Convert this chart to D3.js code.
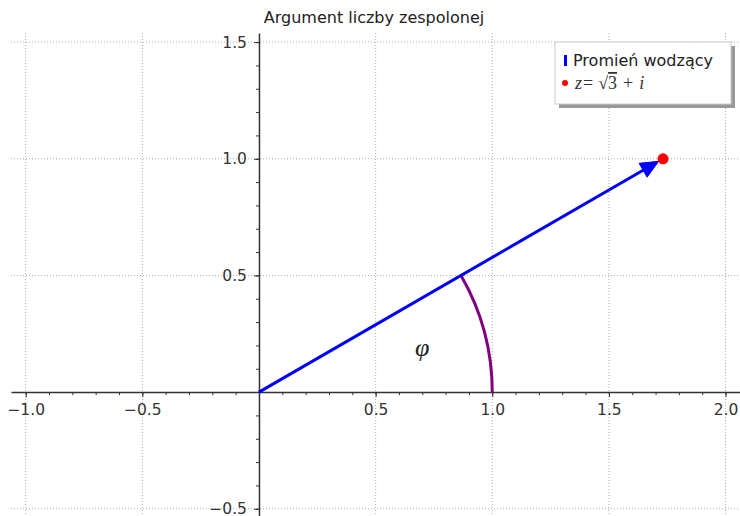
<!DOCTYPE html>
<html>
<head>
<meta charset="utf-8">
<script src="https://cdn.jsdelivr.net/npm/d3@7"></script>
<style>
  body { margin: 0; background: #fff; }
</style>
</head>
<body>
<script>
/* data */
const xMajor = [-1.0, -0.5, 0.5, 1.0, 1.5, 2.0];
const yMajor = [-0.5, 0.5, 1.0, 1.5];
const xMinor = [-1.0, -0.9, -0.8, -0.7, -0.6, -0.5, -0.4, -0.3, -0.2, -0.1, 0.1, 0.2, 0.3, 0.4, 0.5, 0.6, 0.7, 0.8, 0.9, 1.0, 1.1, 1.2, 1.3, 1.4, 1.5, 1.6, 1.7, 1.8, 1.9, 2.0];
const yMinor = [-0.5, -0.4, -0.3, -0.2, -0.1, 0.1, 0.2, 0.3, 0.4, 0.5, 0.6, 0.7, 0.8, 0.9, 1.0, 1.1, 1.2, 1.3, 1.4, 1.5];
const vectorFrom = [0, 0];
const vectorTo = [Math.sqrt(3), 1];
const arcRadius = 1;
const arcDegrees = [0, 30];
const phiPos = [0.70, 0.19];
const legendLabels = ['Promień wodzący', 'z = √3 + i'];

const width = 740;
const height = 516;

const svg = d3.select('body').append('svg')
    .attr('width', width)
    .attr('height', height)
    .attr('font-family', '"DejaVu Sans", sans-serif');

const xScale = d3.scaleLinear().domain([-1.063, 2.062]).range([11, 740]);
const yScale = d3.scaleLinear().domain([-0.531, 1.539]).range([516, 33]);

/* grid */
const grid = svg.append('g').attr('stroke', '#999').attr('stroke-width', 0.8).attr('stroke-dasharray', '1,2');
grid.selectAll('.gx').data(xMajor).enter().append('line')
    .attr('x1', d => xScale(d)).attr('x2', d => xScale(d))
    .attr('y1', yScale.range()[1]).attr('y2', yScale.range()[0]);
grid.selectAll('.gy').data(yMajor).enter().append('line')
    .attr('y1', d => yScale(d)).attr('y2', d => yScale(d))
    .attr('x1', xScale.range()[0]).attr('x2', xScale.range()[1]);

/* axes */
const fmt = d3.format('.1f');
svg.append('g')
    .attr('transform', `translate(0,${yScale(0)})`)
    .call(d3.axisBottom(xScale).tickValues(xMajor).tickFormat(fmt).tickSize(5).tickSizeOuter(0).tickPadding(7));
svg.append('g')
    .attr('transform', `translate(0,${yScale(0)})`)
    .call(d3.axisBottom(xScale).tickValues(xMinor).tickFormat('').tickSize(3))
    .call(g => g.select('.domain').remove());
svg.append('g')
    .attr('transform', `translate(${xScale(0)},0)`)
    .call(d3.axisLeft(yScale).tickValues(yMajor).tickFormat(fmt).tickSize(5).tickSizeOuter(0).tickPadding(7));
svg.append('g')
    .attr('transform', `translate(${xScale(0)},0)`)
    .call(d3.axisLeft(yScale).tickValues(yMinor).tickFormat('').tickSize(3))
    .call(g => g.select('.domain').remove());

svg.selectAll('.domain').attr('stroke', '#333').attr('stroke-width', 1.5);
svg.selectAll('.tick line').attr('stroke', '#333').attr('stroke-width', 1);
svg.selectAll('.tick text').attr('font-size', 15.5).attr('fill', '#333')
    .attr('font-family', '"DejaVu Sans", sans-serif');

/* title */
svg.append('text').attr('x', 374).attr('y', 23).attr('text-anchor', 'middle')
    .attr('font-size', 16).attr('fill', '#222').text('Argument liczby zespolonej');

/* angle arc */
const cx = xScale(0), cy = yScale(0);
const r = xScale(arcRadius) - xScale(0);
const t0 = -arcDegrees[0] * Math.PI / 180, t1 = -arcDegrees[1] * Math.PI / 180;
const arcPath = d3.path();
arcPath.moveTo(cx + r * Math.cos(t0), cy + r * Math.sin(t0));
arcPath.arc(cx, cy, r, t0, t1, true);
svg.append('path').attr('d', arcPath.toString())
    .attr('fill', 'none').attr('stroke', '#800080').attr('stroke-width', 3);

/* vector */
const p0 = [xScale(vectorFrom[0]), yScale(vectorFrom[1])];
const p1 = [xScale(vectorTo[0]), yScale(vectorTo[1])];
const len = Math.hypot(p1[0] - p0[0], p1[1] - p0[1]);
const ux = (p1[0] - p0[0]) / len, uy = (p1[1] - p0[1]) / len;
const tip = [p1[0] - 5 * ux, p1[1] - 5 * uy];
const headLen = 18, headW = 8;
const base = [tip[0] - headLen * ux, tip[1] - headLen * uy];
svg.append('line')
    .attr('x1', p0[0]).attr('y1', p0[1])
    .attr('x2', base[0] + 2 * ux).attr('y2', base[1] + 2 * uy)
    .attr('stroke', '#0000ff').attr('stroke-width', 3);
svg.append('path')
    .attr('d', `M${tip[0]},${tip[1]}L${base[0] - headW * uy},${base[1] + headW * ux}L${base[0] + headW * uy},${base[1] - headW * ux}Z`)
    .attr('fill', '#0000ff').attr('stroke', '#0000ff').attr('stroke-width', 1);

/* point */
svg.append('circle').attr('cx', p1[0]).attr('cy', p1[1]).attr('r', 5.5).attr('fill', '#ff0000');

/* phi */
svg.append('text').attr('x', xScale(phiPos[0])).attr('y', yScale(phiPos[1]))
    .attr('text-anchor', 'middle').attr('dominant-baseline', 'central')
    .attr('font-family', '"Liberation Serif", serif').attr('font-style', 'italic')
    .attr('font-size', 26).attr('fill', '#222').text('φ');

/* legend */
const lg = svg.append('g').attr('transform', 'translate(555,42)');
lg.append('rect').attr('x', 4).attr('y', 4).attr('width', 176).attr('height', 62).attr('fill', '#999');
lg.append('rect').attr('x', 0).attr('y', 0).attr('width', 176).attr('height', 62)
    .attr('fill', '#fff').attr('stroke', '#ccc').attr('stroke-width', 1);
lg.append('rect').attr('x', 9).attr('y', 13).attr('width', 3).attr('height', 11).attr('fill', '#0000ff');
lg.append('text').attr('x', 18).attr('y', 24).attr('font-size', 16).attr('fill', '#222').text(legendLabels[0]);
lg.append('circle').attr('cx', 10).attr('cy', 41).attr('r', 3).attr('fill', '#ff0000');
const mt = lg.append('text').attr('x', 20).attr('y', 47)
    .attr('font-family', '"Liberation Serif", serif').attr('font-size', 18).attr('fill', '#333');
mt.append('tspan').attr('font-style', 'italic').text('z');
mt.append('tspan').attr('dx', 1).text('=');
mt.append('tspan').attr('dx', 5).text('√');
mt.append('tspan').attr('text-decoration', 'overline').text('3');
mt.append('tspan').attr('dx', 6).text('+');
mt.append('tspan').attr('dx', 6).attr('font-style', 'italic').text('i');
</script>
</body>
</html>
